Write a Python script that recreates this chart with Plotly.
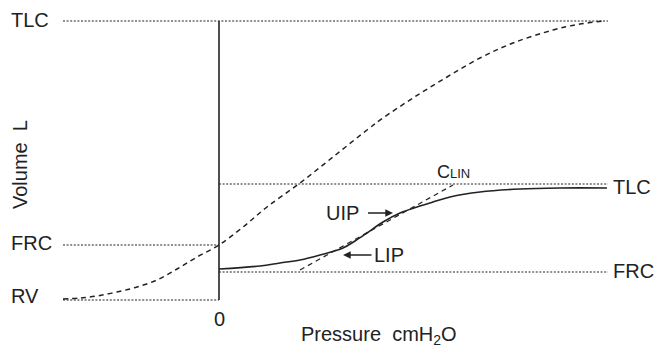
import plotly.graph_objects as go

# Volume reference levels (L)
TLC_TOTAL = 6.58
FRC_TOTAL = 2.10
RV = 1.00
TLC_RS = 3.32
FRC_RS = 1.56

# Pressure extent (cmH2O)
P_LEFT = -15.6
P_RIGHT = 38.9

# Dashed sigmoid (normal) curve
p_dash = [-15.6, -13.9, -12.2, -10.2, -8.2, -6.2, -4.2, -2.2, 0.0, 2.4, 4.8, 8.1,
          11.4, 14.8, 16.4, 19.4, 22.8, 26.1, 29.4, 33.4, 36.1, 38.6]
v_dash = [1.02, 1.04, 1.08, 1.16, 1.26, 1.40, 1.62, 1.86, 2.10, 2.46, 2.86, 3.34,
          3.86, 4.40, 4.64, 5.04, 5.46, 5.84, 6.14, 6.40, 6.52, 6.58]

# Solid curve
p_solid = [0.0, 4.1, 6.1, 8.1, 10.1, 12.4, 13.6, 14.8, 16.4, 18.1, 19.8, 21.4,
           23.1, 26.1, 30.1, 34.1, 38.8]
v_solid = [1.62, 1.68, 1.74, 1.80, 1.90, 2.04, 2.18, 2.34, 2.56, 2.74, 2.86, 2.96,
           3.06, 3.16, 3.22, 3.24, 3.24]

# Linear compliance line
p_clin = [8.1, 23.4]
v_clin = [1.60, 3.30]

INK = "#222222"
FONT = "Liberation Sans, Arial, Helvetica, sans-serif"
FS = 20

fig = go.Figure()

def dotted(x0, x1, y):
    fig.add_trace(go.Scatter(x=[x0, x1], y=[y, y], mode="lines",
                             line=dict(color=INK, width=1.2, dash="2px,1.6px"),
                             hoverinfo="skip", showlegend=False))

dotted(P_LEFT, P_RIGHT, TLC_TOTAL)
dotted(P_LEFT, 0, FRC_TOTAL)
dotted(P_LEFT, 0, RV)
dotted(0, P_RIGHT, TLC_RS)
dotted(0, P_RIGHT, FRC_RS)

# vertical zero-pressure axis
fig.add_trace(go.Scatter(x=[0, 0], y=[RV, TLC_TOTAL], mode="lines",
                         line=dict(color=INK, width=1.6), hoverinfo="skip", showlegend=False))

fig.add_trace(go.Scatter(x=p_dash, y=v_dash, mode="lines", line_shape="spline",
                         line=dict(color=INK, width=1.5, dash="5px,4px"), showlegend=False))
fig.add_trace(go.Scatter(x=p_solid, y=v_solid, mode="lines", line_shape="spline",
                         line=dict(color=INK, width=1.6), showlegend=False))
fig.add_trace(go.Scatter(x=p_clin, y=v_clin, mode="lines",
                         line=dict(color=INK, width=1.2, dash="5px,4px"), showlegend=False))

tf = dict(family=FONT, size=FS, color=INK)
ann = []
def label(x, y, text, xanchor="left", **kw):
    ann.append(dict(x=x, y=y, xref="x", yref="y", text=text, showarrow=False,
                    xanchor=xanchor, yanchor="middle", font=tf, **kw))

label(-21.0, 6.60, "TLC")
label(-21.0, 2.14, "FRC")
label(-21.0, 1.08, "RV")
label(39.2, 3.26, "TLC")
label(39.2, 1.58, "FRC")
label(0, 0.62, "0", xanchor="center")
label(16.0, 0.30, "Pressure  cmH<sub>2</sub>O", xanchor="center")
label(-19.9, 3.70, "Volume  L", xanchor="center", textangle=-90)
label(23.4, 3.56, "<span style='font-size:18px'>C</span><span style='font-size:13px'>LIN</span>",
      xanchor="center")

ann.append(dict(x=17.4, y=2.74, xref="x", yref="y", text="UIP", showarrow=True,
                ax=-51, ay=0, arrowhead=2, arrowsize=1.1, arrowwidth=1.4, arrowcolor=INK,
                startstandoff=8, font=tf))
ann.append(dict(x=12.4, y=1.90, xref="x", yref="y", text="LIP", showarrow=True,
                ax=46, ay=0, arrowhead=2, arrowsize=1.1, arrowwidth=1.4, arrowcolor=INK,
                startstandoff=1, font=tf))

fig.update_layout(
    width=654, height=351,
    margin=dict(l=0, r=0, t=0, b=0),
    paper_bgcolor="white", plot_bgcolor="white",
    xaxis=dict(range=[-21.9, 43.5], visible=False, fixedrange=True),
    yaxis=dict(range=[-0.02, 7.0], visible=False, fixedrange=True),
    annotations=ann,
    showlegend=False,
)

# remove the default page margin so the 654x351 figure fills the window exactly
fig.write_html("out.html",
               config={"displayModeBar": False},
               post_script="document.body.style.margin='0';document.body.style.overflow='hidden';")
